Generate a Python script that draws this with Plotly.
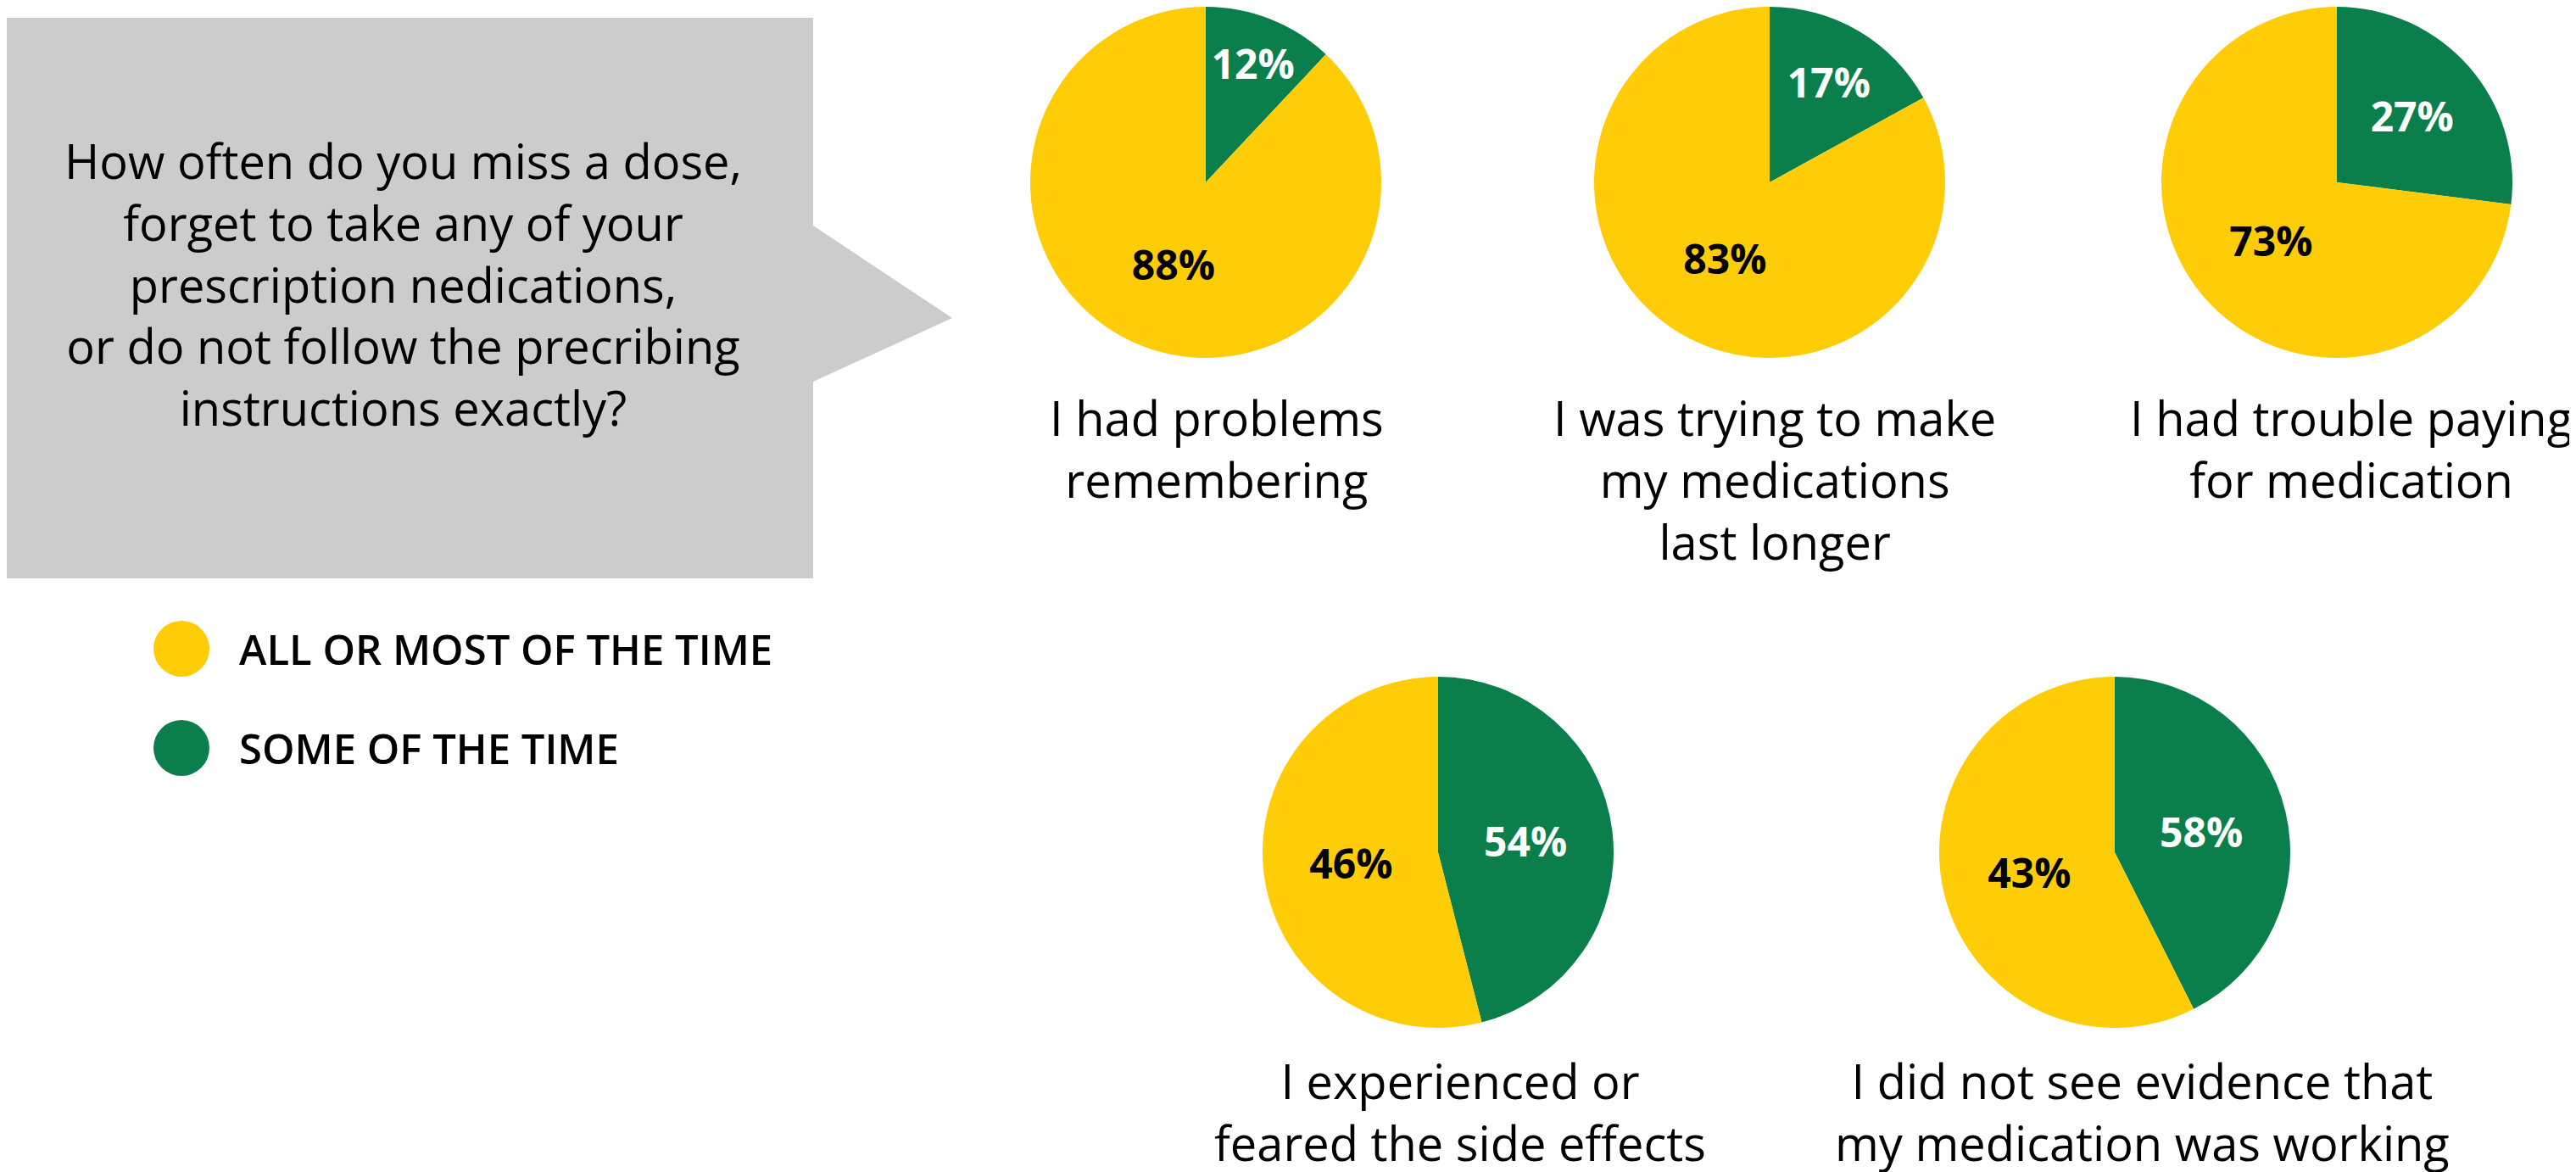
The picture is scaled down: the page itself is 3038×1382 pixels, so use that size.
import plotly.graph_objects as go

W, H = 3038, 1382

question = ("How often do you miss a dose,<br>forget to take any of your<br>"
            "prescription nedications,<br>or do not follow the precribing<br>"
            "instructions exactly?")
series = ["SOME OF THE TIME", "ALL OR MOST OF THE TIME"]
reasons = [
    "I had problems<br>remembering",
    "I was trying to make<br>my medications<br>last longer",
    "I had trouble paying<br>for medication",
    "I experienced or<br>feared the side effects",
    "I did not see evidence that<br>my medication was working",
]
# slice sizes as drawn in the source chart
some_of_time = [12, 17, 27, 46, 43]
most_of_time = [88, 83, 73, 54, 58]
# percentage labels as printed on the source chart (bottom row labels are swapped there)
some_label = [12, 17, 27, 54, 58]
most_label = [88, 83, 73, 46, 43]

GREEN = "#0A7F4B"
YELLOW = "#FECD08"
FONT = "Open Sans"

# pixel layout: pie centres, radius, label centre x / top
centres = [(1414, 207), (2079, 207), (2748, 207), (1688, 997), (2486, 997)]
R = 207
label_x = [1427, 2085, 2765, 1714, 2518]
label_top = [444, 444, 444, 1226, 1226]


def px(x):
    return x / W


def py(y):
    return 1 - y / H


fig = go.Figure()

for i, name in enumerate(reasons):
    cx, cy = centres[i]
    fig.add_trace(go.Pie(
        labels=series,
        values=[some_of_time[i], most_of_time[i]],
        text=[f"{some_label[i]}%", f"{most_label[i]}%"],
        textinfo="text",
        textposition="inside",
        insidetextorientation="horizontal",
        textfont=dict(family=FONT, size=48, weight="bold", color=["white", "black"]),
        marker=dict(colors=[GREEN, YELLOW], line=dict(width=0)),
        sort=False,
        direction="clockwise",
        rotation=0,
        showlegend=False,
        hoverinfo="label+text",
        name=name.replace("<br>", " "),
        domain=dict(x=[px(cx - R), px(cx + R)], y=[py(cy + R), py(cy - R)]),
    ))
    fig.add_annotation(
        text=name, x=px(label_x[i]), y=py(label_top[i]),
        xref="paper", yref="paper", xanchor="center", yanchor="top",
        showarrow=False, align="center",
        font=dict(family=FONT, size=56, color="black"),
    )

# grey callout box with arrow
box = [(0, 13), (951, 13), (951, 258), (1115, 367), (951, 442), (951, 674), (0, 674)]
path = "M " + " L ".join(f"{px(x):.5f},{py(y):.5f}" for x, y in box) + " Z"
fig.add_shape(type="path", path=path, xref="paper", yref="paper",
              fillcolor="#CCCCCC", line=dict(width=0), layer="below")

fig.add_annotation(
    text=question, x=px(467), y=py(326), xref="paper", yref="paper",
    xanchor="center", yanchor="middle", showarrow=False, align="center",
    font=dict(family=FONT, size=56, weight=500, color="black"),
)

# legend built by hand so the swatches are circles
legend_rows = [(YELLOW, series[1], 757), (GREEN, series[0], 874)]
for colour, text, y in legend_rows:
    fig.add_shape(type="circle", xref="paper", yref="paper",
                  x0=px(206 - 33), x1=px(206 + 33), y0=py(y + 33), y1=py(y - 33),
                  fillcolor=colour, line=dict(width=0))
    fig.add_annotation(
        text=text, x=px(272), y=py(y), xref="paper", yref="paper",
        xanchor="left", yanchor="middle", showarrow=False,
        font=dict(family=FONT, size=49, weight=600, color="black"),
    )

fig.update_layout(
    width=W, height=H,
    margin=dict(l=0, r=0, t=0, b=0),
    paper_bgcolor="white",
    plot_bgcolor="white",
    uniformtext=dict(minsize=48, mode="show"),
)

fig.write_html("out.html")
